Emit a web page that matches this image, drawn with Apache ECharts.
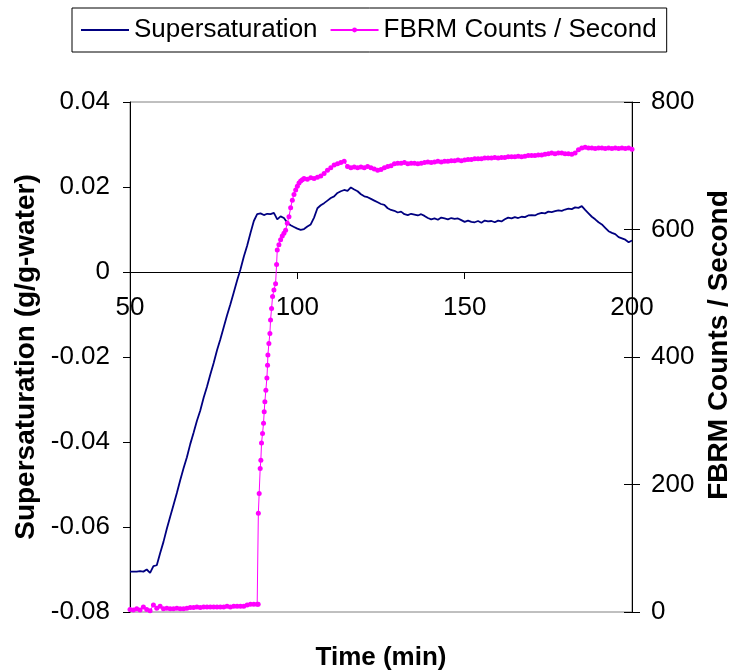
<!DOCTYPE html>
<html>
<head>
<meta charset="utf-8">
<script src="https://cdn.jsdelivr.net/npm/echarts@6/dist/echarts.min.js"></script>
<style>
  html, body { margin: 0; padding: 0; background: #fff; }
  #chart { width: 732px; height: 670px; }
</style>
</head>
<body>
<div id="chart"></div>
<script>
// time (min) vs supersaturation (g/g-water)
const satPoints = [
  [50, -0.0705], [51, -0.0705], [52, -0.0705], [53, -0.0704], [54, -0.0705], [55, -0.0700], [56, -0.0708], [57, -0.0692], [58, -0.0690], [59, -0.0662],
  [60, -0.0635], [61, -0.0604], [62, -0.0576], [63, -0.0548], [64, -0.0520], [65, -0.0490], [66, -0.0462], [67, -0.0436], [68, -0.0405], [69, -0.0378],
  [70, -0.0350], [71, -0.0326], [72, -0.0296], [73, -0.0270], [74, -0.0241], [75, -0.0214], [76, -0.0184], [77, -0.0158], [78, -0.0130], [79, -0.0102],
  [80, -0.0076], [81, -0.0048], [82, -0.0020], [83, 0.0006], [84, 0.0036], [85, 0.0062], [86, 0.0092], [87, 0.0120], [88, 0.0136], [89, 0.0138],
  [90, 0.0134], [91, 0.0137], [92, 0.0136], [93, 0.0139], [94, 0.0124], [95, 0.0131], [96, 0.0127], [97, 0.0116], [98, 0.0110], [99, 0.0106],
  [100, 0.0102], [101, 0.0099], [102, 0.0101], [103, 0.0107], [104, 0.0112], [105, 0.0128], [106, 0.0150], [107, 0.0157], [108, 0.0162], [109, 0.0168],
  [110, 0.0174], [111, 0.0178], [112, 0.0186], [113, 0.0190], [114, 0.0193], [115, 0.0191], [116, 0.0199], [117, 0.0194], [118, 0.0190], [119, 0.0183],
  [120, 0.0178], [121, 0.0176], [122, 0.0172], [123, 0.0168], [124, 0.0164], [125, 0.0160], [126, 0.0158], [127, 0.0150], [128, 0.0146], [129, 0.0144],
  [130, 0.0140], [131, 0.0142], [132, 0.0136], [133, 0.0134], [134, 0.0137], [135, 0.0135], [136, 0.0133], [137, 0.0136], [138, 0.0132], [139, 0.0127],
  [140, 0.0124], [141, 0.0126], [142, 0.0123], [143, 0.0128], [144, 0.0126], [145, 0.0124], [146, 0.0127], [147, 0.0125], [148, 0.0126], [149, 0.0122],
  [150, 0.0118], [151, 0.0121], [152, 0.0118], [153, 0.0117], [154, 0.0120], [155, 0.0116], [156, 0.0121], [157, 0.0119], [158, 0.0120], [159, 0.0117],
  [160, 0.0121], [161, 0.0119], [162, 0.0124], [163, 0.0128], [164, 0.0126], [165, 0.0129], [166, 0.0127], [167, 0.0130], [168, 0.0129], [169, 0.0133],
  [170, 0.0134], [171, 0.0133], [172, 0.0137], [173, 0.0139], [174, 0.0138], [175, 0.0142], [176, 0.0141], [177, 0.0143], [178, 0.0145], [179, 0.0144],
  [180, 0.0147], [181, 0.0149], [182, 0.0148], [183, 0.0152], [184, 0.0151], [185, 0.0155], [186, 0.0146], [187, 0.0138], [188, 0.0130], [189, 0.0124],
  [190, 0.0117], [191, 0.0112], [192, 0.0104], [193, 0.0096], [194, 0.0092], [195, 0.0089], [196, 0.0082], [197, 0.0079], [198, 0.0076], [199, 0.0070],
  [200, 0.0074]
]

// time (min) vs FBRM counts per second
const fbrmPoints = [
  [50, 4], [51, 3], [52, 5], [53, 3], [54, 8], [55, 4], [56, 2], [57, 11], [58, 6], [59, 9],
  [60, 5], [61, 6], [62, 5], [63, 5], [64, 6], [65, 5], [66, 5], [67, 6], [68, 7], [69, 7],
  [70, 8], [71, 7], [72, 8], [73, 8], [74, 8], [75, 8], [76, 8], [77, 8], [78, 8], [79, 9],
  [80, 8], [81, 9], [82, 9], [83, 9], [84, 9], [85, 11], [86, 12], [87, 12], [88, 12], [88.3, 12],
  [88.35, 155], [88.6, 186], [88.9, 225], [89.1, 238], [89.3, 265], [89.6, 280], [89.9, 296], [90.1, 314], [90.3, 330], [90.6, 348],
  [90.9, 367], [91.1, 387], [91.2, 403], [91.5, 421], [91.8, 437], [92.0, 458], [92.3, 476], [92.6, 495], [93.0, 505], [93.5, 515],
  [93.8, 545], [94.0, 568], [94.5, 576], [95.0, 584], [95.5, 590], [96.0, 594], [96.5, 599], [97.0, 610], [97.5, 620], [98.0, 634],
  [98.5, 646], [99.0, 655], [99.5, 662], [100.0, 668], [100.5, 673], [101.0, 676], [101.5, 678], [102, 680], [103, 679], [104, 681],
  [105, 680], [106, 682], [107, 684], [108, 688], [109, 693], [110, 697], [111, 701], [112, 703], [113, 705], [114, 707],
  [115, 699], [116, 697], [117, 698], [118, 697], [119, 698], [120, 697], [121, 699], [122, 697], [123, 695], [124, 693],
  [125, 694], [126, 697], [127, 699], [128, 700], [129, 703], [130, 704], [131, 704], [132, 705], [133, 703], [134, 704],
  [135, 704], [136, 703], [137, 704], [138, 705], [139, 706], [140, 705], [141, 706], [142, 707], [143, 706], [144, 707],
  [145, 707], [146, 708], [147, 708], [148, 709], [149, 708], [150, 709], [151, 710], [152, 710], [153, 711], [154, 711],
  [155, 711], [156, 712], [157, 712], [158, 712], [159, 713], [160, 712], [161, 713], [162, 713], [163, 714], [164, 714],
  [165, 714], [166, 715], [167, 714], [168, 715], [169, 716], [170, 716], [171, 716], [172, 717], [173, 717], [174, 718],
  [175, 719], [176, 720], [177, 719], [178, 720], [179, 720], [180, 719], [181, 719], [182, 718], [183, 720], [184, 725],
  [185, 728], [186, 729], [187, 728], [188, 728], [189, 727], [190, 728], [191, 728], [192, 727], [193, 728], [194, 727],
  [195, 728], [196, 727], [197, 728], [198, 727], [199, 728], [200, 726]
]

const seriesNames = ['Supersaturation', 'FBRM Counts / Second']
const timeTicks = { min: 50, max: 200, step: 50 }
const satTicks = { min: -0.08, max: 0.04, step: 0.02 }
const fbrmTicks = { min: 0, max: 800, step: 200 }

const font = 'Arial, "Liberation Sans", sans-serif'
const titleStyle = { fontFamily: font, fontSize: 26, fontWeight: 'bold', color: '#000' }
const sideTitleStyle = { fontFamily: font, fontSize: 28, fontWeight: 'bold', color: '#000' }

// plot box in pixels; the time axis sits on the supersaturation zero line
const plot = { left: 130, right: 632, top: 102, bottom: 612 }
const zeroY = plot.top + (plot.bottom - plot.top) * (satTicks.max - 0) / (satTicks.max - satTicks.min)

const chart = echarts.init(document.getElementById('chart'), null, { renderer: 'canvas' })

chart.setOption({
  animation: false,
  backgroundColor: '#fff',
  textStyle: { fontFamily: font },
  title: {
    text: 'Time (min)',
    left: 381,
    top: 645,
    textAlign: 'center',
    padding: 0,
    textStyle: titleStyle
  },
  legend: {
    left: 72,
    top: 8,
    padding: [9, 10, 9, 8],
    borderColor: '#000',
    borderWidth: 1,
    itemWidth: 48,
    itemHeight: 6,
    itemGap: 12,
    textStyle: { fontFamily: font, fontSize: 26, color: '#000' },
    data: [
      { name: seriesNames[0], itemStyle: { opacity: 0 } },
      seriesNames[1]
    ]
  },
  grid: {
    left: plot.left,
    right: 732 - plot.right,
    top: plot.top,
    bottom: 670 - plot.bottom,
    outerBoundsMode: 'none',
    containLabel: false,
    show: true,
    borderColor: '#808080',
    borderWidth: 1
  },
  xAxis: {
    type: 'value',
    min: timeTicks.min,
    max: timeTicks.max,
    interval: timeTicks.step,
    position: 'bottom',
    offset: -(plot.bottom - zeroY),
    axisLine: { onZero: false, lineStyle: { color: '#000', width: 1 } },
    axisTick: { length: 7, lineStyle: { color: '#000' } },
    axisLabel: { margin: 23, fontSize: 26, color: '#000', fontFamily: font },
    splitLine: { show: false }
  },
  yAxis: [
    {
      type: 'value',
      position: 'left',
      min: satTicks.min,
      max: satTicks.max,
      interval: satTicks.step,
      name: 'Supersaturation (g/g-water)',
      nameLocation: 'middle',
      nameGap: 88,
      nameTextStyle: sideTitleStyle,
      axisLine: { show: true, lineStyle: { color: '#000', width: 1 } },
      axisTick: { show: true, length: 7, lineStyle: { color: '#000' } },
      axisLabel: {
        margin: 20,
        fontSize: 26,
        color: '#000',
        fontFamily: font,
        formatter: v => (Math.abs(v) < 1e-9 ? '0' : v.toFixed(2))
      },
      splitLine: { show: false }
    },
    {
      type: 'value',
      position: 'right',
      min: fbrmTicks.min,
      max: fbrmTicks.max,
      interval: fbrmTicks.step,
      name: 'FBRM Counts / Second',
      nameLocation: 'middle',
      nameGap: 72,
      // the title sits a little above the axis middle in the original
      nameTextStyle: Object.assign({ padding: [0, 0, 0, 24] }, sideTitleStyle),
      axisLine: { show: true, lineStyle: { color: '#000', width: 1 } },
      axisTick: { show: true, length: 8, lineStyle: { color: '#000' } },
      axisLabel: { margin: 19, fontSize: 26, color: '#000', fontFamily: font },
      splitLine: { show: false }
    },
    {
      // inner half of the crossing ticks on the right axis
      type: 'value',
      position: 'right',
      min: fbrmTicks.min,
      max: fbrmTicks.max,
      interval: fbrmTicks.step,
      axisLine: { show: false },
      axisTick: { show: true, inside: true, length: 8, lineStyle: { color: '#000' } },
      axisLabel: { show: false },
      splitLine: { show: false }
    }
  ],
  series: [
    {
      name: seriesNames[0],
      type: 'line',
      yAxisIndex: 0,
      data: satPoints,
      symbol: 'none',
      color: '#000080',
      lineStyle: { color: '#000080', width: 1.8 }
    },
    {
      name: seriesNames[1],
      type: 'line',
      yAxisIndex: 1,
      data: fbrmPoints,
      symbol: 'circle',
      symbolSize: 5,
      showAllSymbol: true,
      color: '#ff00ff',
      itemStyle: { color: '#ff00ff' },
      lineStyle: { color: '#ff00ff', width: 1 }
    }
  ]
})
</script>
</body>
</html>
